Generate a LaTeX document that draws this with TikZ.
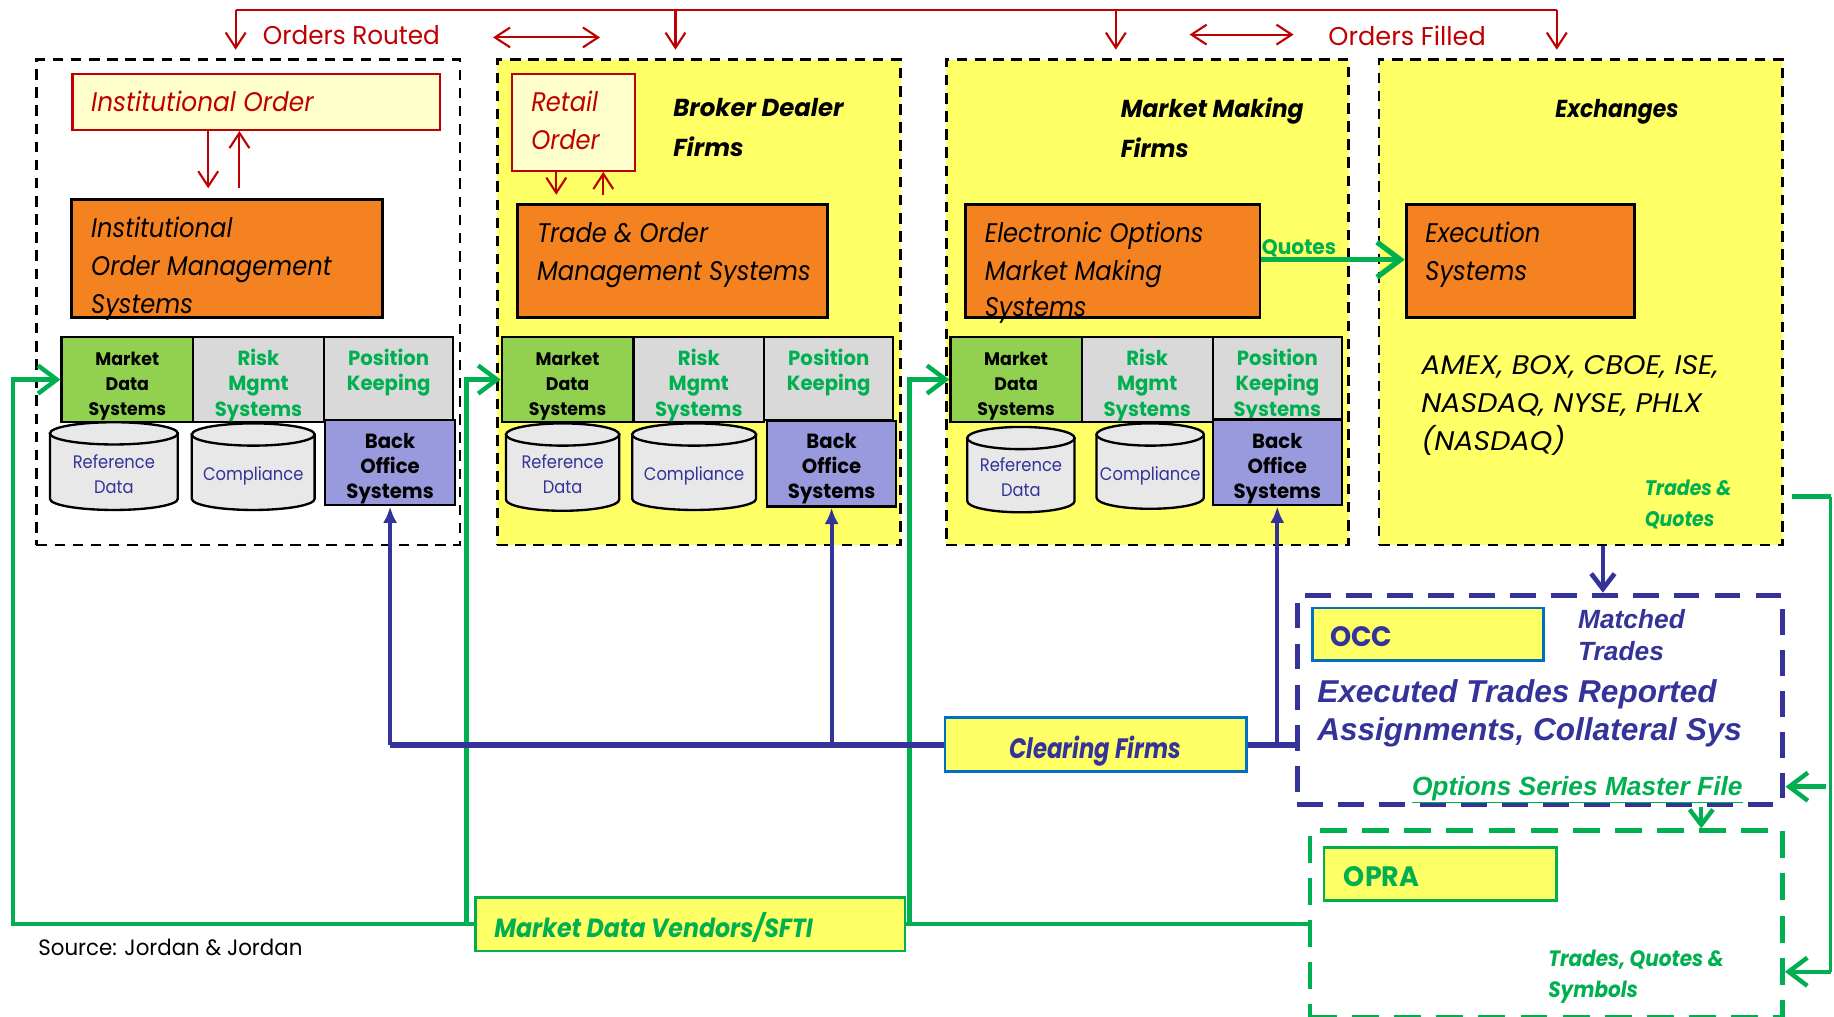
\documentclass[tikz,border=0pt]{standalone}
\usepackage{graphicx}
\usepackage{fontspec}
\setmainfont{Poppins}[FakeStretch=0.96]
\newfontfamily\narrowfam{Poppins}[FakeStretch=0.9]
\newfontfamily\grotesk{Liberation Sans}
\usetikzlibrary{arrows.meta}

\definecolor{ordred}{HTML}{C00000}
\definecolor{sysorange}{HTML}{F58220}
\definecolor{panelyellow}{HTML}{FFFF66}
\definecolor{paleyellow}{HTML}{FFFFCC}
\definecolor{feedgreen}{HTML}{00B050}
\definecolor{mdgreen}{HTML}{92D050}
\definecolor{cellgray}{HTML}{D9D9D9}
\definecolor{bolilac}{HTML}{9999DD}
\definecolor{navy}{HTML}{333399}
\definecolor{occblue}{HTML}{0070C0}
\definecolor{dbgray}{HTML}{E8E8E8}

\newcommand\fsz[1]{\fontsize{#1}{#1}\selectfont}
\newcommand\widen[2]{\scalebox{#1}[1]{#2}}
% rectangle node from its top-left and bottom-right corners (y grows downward)
\newcommand\placebox[6]{\node[#2, anchor=north west, inner sep=0pt,
  minimum width={(#5-#3)*1pt}, minimum height={(#6-#4)*1pt}] (#1) at (#3,#4) {};}
% database cylinder between two corners
\newcommand\dbcyl[5]{%
  \pgfmathsetmacro\cylcx{(#2+#4)/2}%
  \pgfmathsetmacro\cylrx{(#4-#2)/2}%
  \pgfmathsetmacro\cylyt{#3+9.5}%
  \pgfmathsetmacro\cylyb{#5-9.5}%
  \filldraw[cylpart] (#2,\cylyt) -- (#2,\cylyb)
     arc[start angle=180, end angle=360, x radius=\cylrx pt, y radius=9.5pt]
     -- (#4,\cylyt) -- cycle;
  \filldraw[cylpart] (\cylcx,\cylyt) ellipse[x radius=\cylrx pt, y radius=9.5pt];
  \coordinate (#1) at (\cylcx,{(#3+#5)/2});
}

\tikzset{
  panel/.style={draw=black, line width=2.2pt, dash pattern=on 9pt off 6.5pt},
  orderbox/.style={draw=ordred, fill=paleyellow, line width=2pt},
  sysbox/.style={draw=black, fill=sysorange, line width=2.5pt},
  cell/.style={draw=black, line width=2pt},
  cylpart/.style={draw=black, fill=dbgray, line width=2pt},
  labelbox/.style={fill=panelyellow, line width=2.2pt},
  occframe/.style={draw=navy, line width=4.5pt, dash pattern=on 22pt off 13pt},
  opraframe/.style={draw=feedgreen, line width=4pt, dash pattern=on 23pt off 13pt},
  txt/.style={inner sep=0pt, anchor=base west},
  ctxt/.style={inner sep=0pt, anchor=base},
  redline/.style={draw=ordred, line width=1.8pt},
  redtip/.style={redline, -{Straight Barb[length=13pt, width=17pt]}},
  redboth/.style={redline, {Straight Barb[length=13pt, width=17pt]}-{Straight Barb[length=13pt, width=17pt]}},
  feed/.style={draw=feedgreen, line width=3.8pt},
  feedtip/.style={feed, -{Straight Barb[length=16pt, width=24pt]}},
  navyline/.style={draw=navy, line width=3.5pt},
  navyup/.style={navyline, -{Latex[length=14pt, width=12pt]}},
  navydown/.style={navyline, -{Straight Barb[length=13pt, width=20pt]}},
  mdtext/.style={ctxt, font={\fsz{15.5}\bfseries}},
  rktext/.style={ctxt, text=feedgreen, font={\fsz{17.5}\bfseries}},
  botext/.style={ctxt, font={\fsz{17.5}\bfseries}},
  dbtext/.style={ctxt, text=navy, font={\narrowfam\fsz{15.5}}},
  boxtext/.style={txt, font={\narrowfam\fsz{23}\itshape}},
  headtext/.style={txt, font={\fsz{21}\bfseries\itshape}},
}

\begin{document}
\begin{tikzpicture}[x=1pt,y=-1pt]
\useasboundingbox[fill=white] (0,0) rectangle (1568,869);

% ---------- four participant panels ----------
\placebox{p1}{panel, fill=white}{30}{50}{392}{465}
\placebox{p2}{panel, fill=panelyellow}{424}{50}{769}{465}
\placebox{p3}{panel, fill=panelyellow}{808}{50}{1152}{465}
\placebox{p4}{panel, fill=panelyellow}{1178}{50}{1523}{465}

% order entry boxes
\placebox{instord}{orderbox}{61}{62}{375}{110}
\placebox{retord}{orderbox}{437}{62}{542}{145}

% core systems
\placebox{ioms}{sysbox}{60}{169}{326}{270}
\placebox{toms}{sysbox}{441.5}{173.5}{706}{270}
\placebox{eomm}{sysbox}{824.5}{173.5}{1076}{270}
\placebox{exec}{sysbox}{1201}{173.5}{1396}{270}

% supporting system cells
\placebox{md1}{cell, fill=mdgreen}{51.7}{287}{164}{360}
\placebox{rk1}{cell, fill=cellgray}{164}{287}{276}{360}
\placebox{pk1}{cell, fill=cellgray}{276}{287}{386.5}{358}
\placebox{bo1}{cell, fill=bolilac}{277}{358}{388}{431}

\placebox{md2}{cell, fill=mdgreen}{428}{287}{540.5}{360}
\placebox{rk2}{cell, fill=cellgray}{540.5}{287}{652.4}{360}
\placebox{pk2}{cell, fill=cellgray}{652.4}{287}{762.7}{358}
\placebox{bo2}{cell, fill=bolilac}{655}{358.8}{765}{432}

\placebox{md3}{cell, fill=mdgreen}{811.7}{287}{923.8}{360}
\placebox{rk3}{cell, fill=cellgray}{923.8}{287}{1035.8}{360}
\placebox{pk3}{cell, fill=cellgray}{1035.8}{287}{1146.3}{357.7}
% third caption line of this cell sits under the back office box
\node[rktext] (tpk3) at (pk3.center |- 0,356.4) {Systems};
\placebox{bo3}{cell, fill=bolilac}{1035.8}{357.7}{1146.3}{431}

% databases
\dbcyl{ref1}{42.7}{361}{152}{436}
\dbcyl{cmp1}{164}{362}{269}{436}
\dbcyl{ref2}{432.6}{362}{529.4}{436.7}
\dbcyl{cmp2}{540.5}{362}{646.4}{436}
\dbcyl{ref3}{827}{365}{918.7}{438}
\dbcyl{cmp3}{937.5}{362}{1029.2}{435}

% ---------- clearing and reporting ----------
\placebox{occ}{occframe}{1107}{506.7}{1522}{685.4}
\placebox{opra}{opraframe}{1118}{708.2}{1522}{867.8}
\placebox{occin}{labelbox, draw=occblue}{1121}{518.7}{1318.4}{563.5}
\placebox{oprain}{labelbox, draw=feedgreen}{1131}{723.3}{1329.6}{769}
\placebox{clr}{labelbox, draw=occblue}{806.7}{612.5}{1064.8}{658.5}
\placebox{mdv}{labelbox, draw=feedgreen}{405.5}{766}{772.7}{812}

% ---------- order routing (red) ----------
\coordinate (rt1) at (201.5,8.5);
\coordinate (rt2) at (577.5,8.5);
\coordinate (rt3) at (954,8.5);
\coordinate (rt4) at (1331,8.5);
\draw[redline] (rt1) -- (rt4);
\draw[redtip, shorten >=7.5pt] (rt1) -- (rt1 |- p1.north);
\draw[redtip, shorten >=7.5pt] (rt2) -- (rt2 |- p2.north);
\draw[redtip, shorten >=7.5pt] (rt3) -- (rt3 |- p3.north);
\draw[redtip, shorten >=7.5pt] (rt4) -- (rt4 |- p4.north);
\coordinate (dbl1a) at (421.5,32);
\coordinate (dbl1b) at (513,32);
\coordinate (dbl2a) at (1017,29.6);
\coordinate (dbl2b) at (1106,29.6);
\draw[redboth] (dbl1a) -- (dbl1b);
\draw[redboth] (dbl2a) -- (dbl2b);

\coordinate (iodn) at (178,0);
\coordinate (ioup) at (204.7,0);
\draw[redtip, shorten >=8pt] (iodn |- instord.south) -- (iodn |- ioms.north);
\draw[redtip, shorten <=8pt] (ioup |- ioms.north) -- (ioup |- instord.south);
\coordinate (rodn) at (475.6,0);
\coordinate (roup) at (515.8,0);
\draw[redtip, shorten >=7pt] (rodn |- retord.south) -- (rodn |- toms.north);
\draw[redtip, shorten <=6.5pt] (roup |- toms.north) -- (roup |- retord.south);

% ---------- quotes to the exchange ----------
\coordinate (qy) at (0,222);
\draw[feed, line width=4.5pt, -{Straight Barb[length=20pt, width=30pt]}] (eomm.east |- qy) -- (exec.west |- qy);

% ---------- market data feeds (green) ----------
\coordinate (gl) at (11,0);
\coordinate (gm) at (399,0);
\coordinate (gr) at (777.7,0);
\draw[feedtip] (mdv.west) -| (gl |- md1.west) -- (md1.west);
\draw[feedtip] (gm |- mdv.west) |- (md2.west);
\draw[feed] (mdv.east) -- (opra.west |- mdv.east);
\draw[feedtip] (gr |- mdv.east) |- (md3.west);

\coordinate (ge) at (1565,424.5);
\coordinate (gb1) at (1565,672.6);
\coordinate (gb2) at (1565,830.8);
\draw[feed, shorten <=7pt] (p4.east |- ge) -- (ge);
\draw[draw=feedgreen, line width=2pt] (ge) -- (gb2);
\draw[feedtip] (gb2) -- (opra.east |- gb2);
\draw[feedtip, shorten <=4pt] (gb1) -- (occ.east |- gb1);

% ---------- clearing (navy) ----------
\draw[navyline, line width=5pt] (bo1.south |- clr.west) -- (clr.west);
\draw[navyline, line width=5pt] (clr.east) -- (occ.west |- clr.east);
\draw[navyup] (bo1.south |- clr.west) -- (bo1.south);
\draw[navyup] (bo2.south |- clr.west) -- (bo2.south);
\draw[navyup] (bo3.south |- clr.east) -- (bo3.south);
\coordinate (xdn) at (1370.4,0);
\draw[navydown, line width=4pt] (xdn |- p4.south) -- (xdn |- occ.north);
\coordinate (odn) at (1454.5,0);
\draw[feed, -{Straight Barb[length=13pt, width=20pt]}] (odn |- occ.south) -- (odn |- opra.north);

% ---------- labels ----------
\node[txt, text=ordred, font=\fsz{22}] (lrouted) at (224.6,38) {Orders Routed};
\node[txt, text=ordred, font=\fsz{22}] (lfilled) at (1135.6,38.5) {\widen{1.035}{Orders Filled}};

\node[boxtext, text=ordred] (tio) at (77.8,95.3) {\widen{1.025}{Institutional Order}};
\node[boxtext] (tioms1) at (77.8,203) {Institutional};
\node[boxtext] (tioms2) at (77.8,235.7) {Order Management};
\node[boxtext] (tioms3) at (77.8,268) {Systems};

\node[boxtext, text=ordred] (tro1) at (454,95.3) {Retail};
\node[boxtext, text=ordred] (tro2) at (454,128) {Order};
\node[headtext] (tbd1) at (575.5,99.8) {\widen{1.035}{Broker Dealer}};
\node[headtext] (tbd2) at (575.5,133.5) {\widen{1.035}{Firms}};
\node[boxtext] (ttoms1) at (459,207.7) {Trade \& Order};
\node[boxtext] (ttoms2) at (459,239.6) {Management Systems};

\node[headtext] (tmm1) at (958,100.8) {Market Making};
\node[headtext] (tmm2) at (958,134.3) {Firms};
\node[boxtext] (teo1) at (841.8,207.7) {Electronic Options};
\node[boxtext] (teo2) at (841.8,239.6) {Market Making};
\node[boxtext] (teo3) at (841.8,271) {Systems};
\node[txt, text=feedgreen, font={\fsz{18}\bfseries}] (tquotes) at (1078.6,217.4) {Quotes};

\node[headtext] (tex) at (1329.6,100.8) {\widen{0.93}{Exchanges}};
\node[boxtext] (tes1) at (1218.5,207.7) {Execution};
\node[boxtext] (tes2) at (1218.5,239.6) {Systems};
\node[boxtext] (tx1) at (1215,320.6) {\widen{1.18}{AMEX, BOX, CBOE, ISE,}};
\node[boxtext] (tx2) at (1215,352.7) {\widen{1.18}{NASDAQ, NYSE, PHLX}};
\node[boxtext] (tx3) at (1215,385.3) {\widen{1.18}{(NASDAQ)}};
\node[txt, text=feedgreen, font={\narrowfam\fsz{18}\bfseries\itshape}] (ttq1) at (1406,423.8) {Trades \&};
\node[txt, text=feedgreen, font={\narrowfam\fsz{18}\bfseries\itshape}] (ttq2) at (1406,450.4) {Quotes};

% cell captions
\foreach \k in {1,2,3} {
  \node[mdtext] at (md\k.center |- 0,312.7) {Market};
  \node[mdtext] at (md\k.center |- 0,334) {Data};
  \node[mdtext] at (md\k.center |- 0,355.4) {Systems};
  \node[rktext] at (rk\k.center |- 0,312.7) {Risk};
  \node[rktext] at (rk\k.center |- 0,334) {Mgmt};
  \node[rktext] at (rk\k.center |- 0,356.4) {Systems};
  \node[rktext] at (pk\k.center |- 0,312.7) {Position};
  \node[rktext] at (pk\k.center |- 0,334) {Keeping};
  \node[botext] at (bo\k.center |- 0,383.3) {Back};
  \node[botext] at (bo\k.center |- 0,404.7) {Office};
  \node[botext] at (bo\k.center |- 0,426) {Systems};
  \node[dbtext] at (cmp\k |- 0,411) {Compliance};
}
\node[dbtext] at (ref1 |- 0,400.4) {Reference};
\node[dbtext] at (ref1 |- 0,421.8) {Data};
\node[dbtext] at (ref2 |- 0,400.4) {Reference};
\node[dbtext] at (ref2 |- 0,421.8) {Data};
\node[dbtext] at (ref3 |- 0,403) {Reference};
\node[dbtext] at (ref3 |- 0,424.4) {Data};

% clearing / reporting captions
\node[txt, text=navy, font={\fsz{24}\bfseries}] (tocc) at (1137,553) {OCC};
\node[txt, text=navy, font={\grotesk\fsz{22.5}\bfseries\itshape}] (tmt1) at (1349,537.2) {Matched};
\node[txt, text=navy, font={\grotesk\fsz{22.5}\bfseries\itshape}] (tmt2) at (1349,564.3) {Trades};
\node[txt, text=navy, font={\grotesk\fsz{27}\bfseries\itshape}] (tetr1) at (1126,600.8) {Executed Trades Reported};
\node[txt, text=navy, font={\grotesk\fsz{27}\bfseries\itshape}] (tetr2) at (1126,632.7) {Assignments, Collateral Sys};
\node[txt, text=feedgreen, font={\grotesk\fsz{22.5}\bfseries\itshape}] (tosmf) at (1207,679.7) {\underline{Options Series Master File}};
\node[txt, text=feedgreen, font={\fsz{24}\bfseries}] (topra) at (1148.8,758.1) {OPRA};
\node[txt, text=feedgreen, font={\narrowfam\fsz{19}\bfseries\itshape}] (ttqs1) at (1323.5,826.5) {Trades, Quotes \&};
\node[txt, text=feedgreen, font={\narrowfam\fsz{19}\bfseries\itshape}] (ttqs2) at (1323.5,852.7) {Symbols};
\node[txt, text=navy, font={\narrowfam\fsz{24}\bfseries\itshape}] (tclr) at (862.7,648.4) {\widen{0.9}{Clearing Firms}};
\node[txt, text=feedgreen, font={\narrowfam\fsz{22.5}\bfseries\itshape}] (tmdv) at (422.5,801.4) {Market Data Vendors/SFTI};
\node[txt, font=\fsz{19}] (tsrc) at (32.6,816.5) {Source: Jordan \& Jordan};
\end{tikzpicture}
\end{document}
